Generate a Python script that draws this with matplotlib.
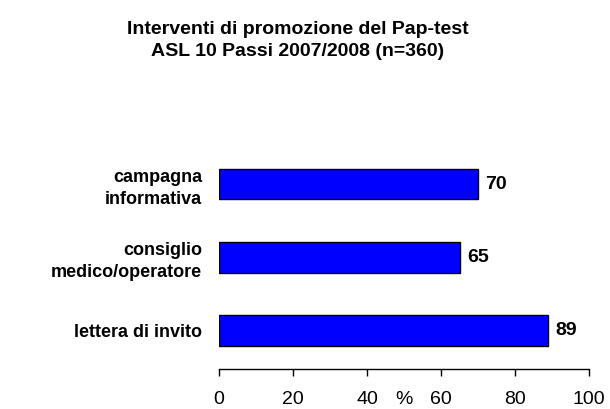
import matplotlib

matplotlib.use("Agg")
import matplotlib.pyplot as plt  # noqa: E402

plt.rcParams["font.family"] = ["Liberation Sans", "DejaVu Sans"]

# data (bottom to top)
categories = ["lettera di invito", "consiglio\nmedico/operatore", "campagna\ninformativa"]
values = [89, 65, 70]
x_ticks = [0, 20, 40, 60, 80, 100]

fig = plt.figure(figsize=(6.1, 4.09), dpi=100)
ax_bottom = 368.5
ax_top = 147.5
ax = fig.add_axes([219 / 610, 1 - ax_bottom / 409, 370 / 610, (ax_bottom - ax_top) / 409])

pos = list(range(len(categories)))
ax.barh(pos, values, height=0.42, color="#0000FF", edgecolor="black", linewidth=1)
for p, v in zip(pos, values):
    ax.text(v + 2, p, f"{v}", va="center", ha="left", fontsize=14, fontweight="bold")

ax.set_xlim(0, 100)
ax.set_ylim(-0.52, 2.5)
ax.set_yticks(pos)
ax.set_yticklabels(categories, fontsize=13, fontweight="bold", linespacing=1.35)
ax.tick_params(axis="y", length=0, pad=12)
for lab in ax.get_yticklabels():
    lab.set_multialignment("right")
ax.set_xticks(x_ticks)
ax.tick_params(axis="x", labelsize=14, length=5, width=1, pad=11)

for s in ["top", "right", "left"]:
    ax.spines[s].set_visible(False)
ax.spines["bottom"].set_linewidth(1)

ax.set_xlabel("%", fontsize=14)
ax.xaxis.set_label_coords(0.5, -(391.5 - ax_bottom) / (ax_bottom - ax_top))

fig.text(298 / 610, 1 - 30 / 409, "Interventi di promozione del Pap-test", ha="center", va="center",
         fontsize=14, fontweight="bold")
fig.text(298 / 610, 1 - 52 / 409, "ASL 10 Passi 2007/2008 (n=360)", ha="center", va="center",
         fontsize=14, fontweight="bold")

fig.savefig("out.png", dpi=100)
